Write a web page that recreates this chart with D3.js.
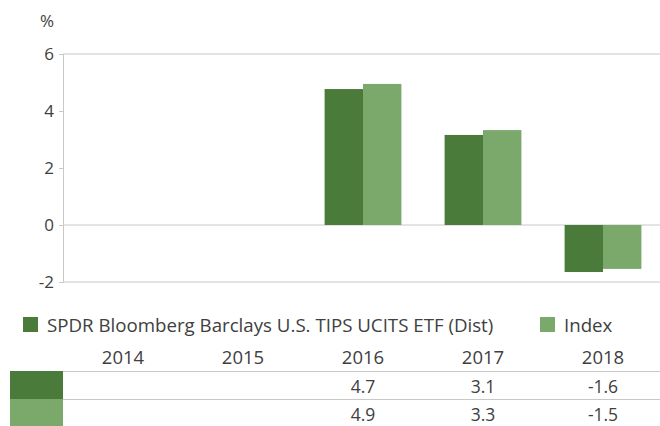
<!DOCTYPE html>
<html>
<head>
<meta charset="utf-8">
<script src="https://cdn.jsdelivr.net/npm/d3@7"></script>
<style>
  body { margin: 0; background: #fff; }
  text { font-family: "Open Sans", sans-serif; fill: #404040; }
</style>
</head>
<body>
<svg id="chart" width="660" height="426"></svg>
<script>
// ----- data -----
const years = ["2014", "2015", "2016", "2017", "2018"];
const seriesNames = ["SPDR Bloomberg Barclays U.S. TIPS UCITS ETF (Dist)", "Index"];
const fundValues = [null, null, 4.77, 3.16, -1.65];
const indexValues = [null, null, 4.95, 3.33, -1.54];
const fundLabels = ["", "", "4.7", "3.1", "-1.6"];
const indexLabels = ["", "", "4.9", "3.3", "-1.5"];
const yTicks = [-2, 0, 2, 4, 6];
const colors = ["#4a7b3a", "#7ba96b"];

const svg = d3.select("svg#chart");

const x0 = d3.scaleBand()
  .domain(years)
  .range([63, 663])
  .paddingInner(0.36)
  .paddingOuter(0.18);

const x1 = d3.scaleBand()
  .domain([0, 1])
  .range([0, x0.bandwidth()]);

const y = d3.scaleLinear()
  .domain([-2, 6])
  .range([282, 54]);

const grid = "#c8c8c8";

// horizontal lines: top, zero, bottom
svg.append("g")
  .selectAll("line")
  .data([6, 0, -2])
  .join("line")
  .attr("x1", 63)
  .attr("x2", 660)
  .attr("y1", d => y(d))
  .attr("y2", d => y(d))
  .attr("stroke", grid)
  .attr("stroke-width", 1);

// y axis
const yAxis = svg.append("g")
  .attr("transform", "translate(63,0)")
  .call(d3.axisLeft(y).tickValues(yTicks).tickSize(4).tickPadding(5).tickFormat(d => String(d)));
yAxis.select(".domain").attr("stroke", grid);
yAxis.selectAll(".tick line").attr("stroke", grid);
yAxis.selectAll(".tick text")
  .attr("font-size", 17)
  .attr("font-family", "Open Sans")
  .attr("fill", "#404040");

svg.append("text")
  .attr("x", 47)
  .attr("y", 27)
  .attr("text-anchor", "middle")
  .attr("font-size", 17)
  .text("%");

// bars
const rows = years.map((yr, i) => ({ year: yr, vals: [fundValues[i], indexValues[i]] }));

svg.append("g")
  .selectAll("g")
  .data(rows)
  .join("g")
  .attr("transform", d => `translate(${x0(d.year)},0)`)
  .selectAll("rect")
  .data(d => d.vals.map((v, k) => ({ v, k })).filter(e => e.v !== null))
  .join("rect")
  .attr("x", d => x1(d.k))
  .attr("width", x1.bandwidth())
  .attr("y", d => y(Math.max(0, d.v)))
  .attr("height", d => Math.abs(y(d.v) - y(0)))
  .attr("fill", d => colors[d.k]);

// legend
const legend = svg.append("g");
const legendX = [23, 540];
seriesNames.forEach((name, k) => {
  legend.append("rect")
    .attr("x", legendX[k])
    .attr("y", 317)
    .attr("width", 15)
    .attr("height", 15)
    .attr("fill", colors[k]);
  legend.append("text")
    .attr("x", legendX[k] + 24)
    .attr("y", 332)
    .attr("font-size", 18.7)
    .text(name);
});

// data table
const table = svg.append("g");
table.selectAll("text.year")
  .data(years)
  .join("text")
  .attr("class", "year")
  .attr("x", d => x0(d) + x0.bandwidth() / 2)
  .attr("y", 364)
  .attr("text-anchor", "middle")
  .attr("font-size", 18.5)
  .text(d => d);

const rowTop = [371, 399];
const rowLabels = [fundLabels, indexLabels];
[0, 1].forEach(k => {
  table.append("rect")
    .attr("x", 10)
    .attr("y", rowTop[k])
    .attr("width", 53)
    .attr("height", k === 0 ? 28 : 27)
    .attr("fill", colors[k]);
  table.append("line")
    .attr("x1", 63)
    .attr("x2", 660)
    .attr("y1", rowTop[k] + 0.5)
    .attr("y2", rowTop[k] + 0.5)
    .attr("stroke", grid);
  table.selectAll("text.r" + k)
    .data(rowLabels[k])
    .join("text")
    .attr("class", "r" + k)
    .attr("x", (d, i) => x0(years[i]) + x0.bandwidth() / 2)
    .attr("y", rowTop[k] + 22)
    .attr("text-anchor", "middle")
    .attr("font-size", 17.5)
    .text(d => d);
});
</script>
</body>
</html>
